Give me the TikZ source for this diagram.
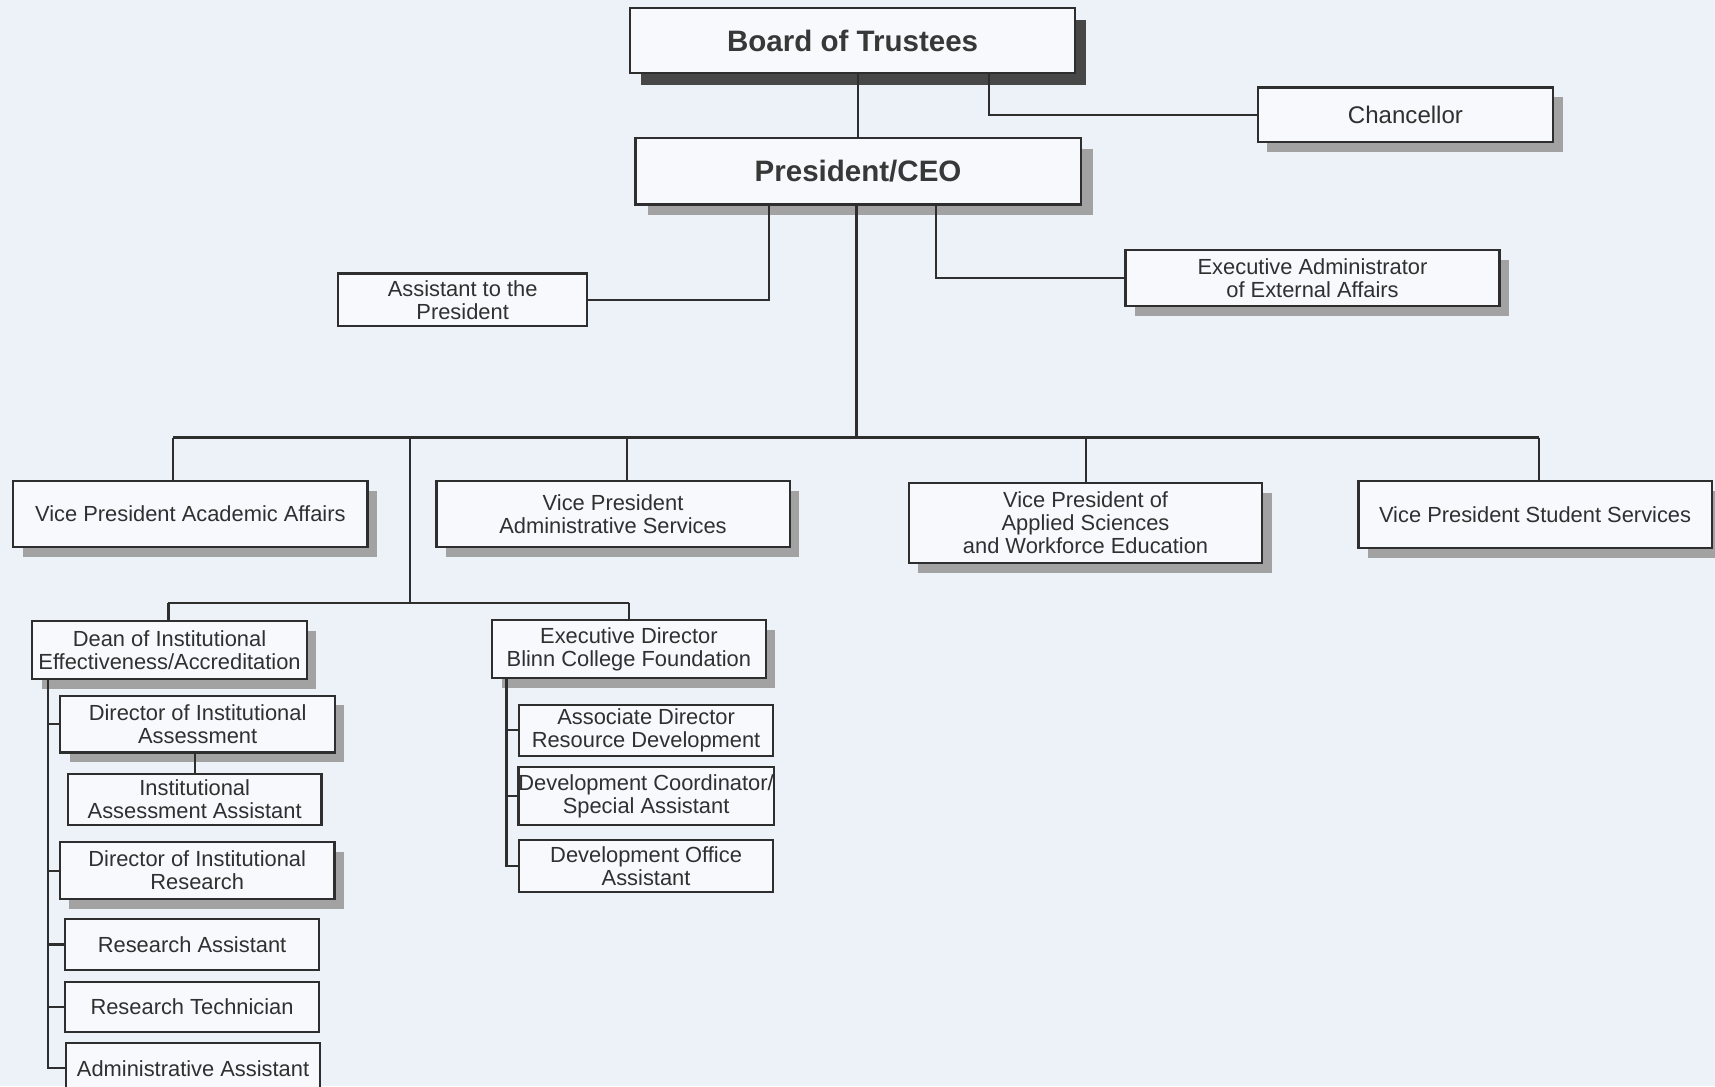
\documentclass[tikz,border=0pt]{standalone}
\usepackage{fontspec}
\setmainfont{Liberation Sans}
\usetikzlibrary{shadows}
\definecolor{bg}{HTML}{EDF1F8}
\definecolor{boxfill}{HTML}{F8F9FC}
\definecolor{ink}{HTML}{2E2E2E}
\definecolor{txt}{HTML}{303030}
\definecolor{shgray}{HTML}{A2A2A2}
\definecolor{shdark}{HTML}{474747}
\tikzset{
  orgbox/.style={draw=ink, fill=boxfill, line width=1pt, inner sep=0pt, align=center,
    text=txt, font=\fontsize{10}{10.5}\selectfont},
  sz/.style 2 args={minimum width=#1*0.5pt, minimum height=#2*0.5pt},
  shd/.style={drop shadow={shadow xshift=4.3pt, shadow yshift=-4.5pt, fill=shgray, opacity=1}},
  shdbig/.style={drop shadow={shadow xshift=5.5pt, shadow yshift=-5pt, fill=shgray, opacity=1}},
  shddark/.style={drop shadow={shadow xshift=5pt, shadow yshift=-5.5pt, fill=shdark, opacity=1}},
  headtext/.style={font=\fontsize{13.5}{15}\selectfont\bfseries, text=ink!95},
  link/.style={draw=ink, line width=1pt},
}
\begin{document}
\begin{tikzpicture}[x=0.5pt,y=-0.5pt]
\fill[bg] (0,0) rectangle (1568,993);
\useasboundingbox (0,0) rectangle (1568,993);

% top level
\node[orgbox, shddark, sz={407}{60}, headtext] (board) at (779.5,37) {Board of Trustees};
\node[orgbox, shd, sz={270}{50}, font=\fontsize{11}{12}\selectfont] (chan) at (1285,105) {Chancellor};
\node[orgbox, shdbig, sz={407}{61}, headtext] (pres) at (784.5,156.5) {President/CEO};
\node[orgbox, sz={228}{48}] (asst) at (423,274) {Assistant to the\\President};
\node[orgbox, shd, sz={342}{51}] (exad) at (1200,254) {Executive Administrator\\of External Affairs};

% vice presidents
\node[orgbox, shd, sz={324}{60}] (vpaa) at (174,470) {Vice President Academic Affairs};
\node[orgbox, shd, sz={323}{60}] (vpas) at (560.5,470) {Vice President\\Administrative Services};
\node[orgbox, shd, sz={323}{73}] (vpasw) at (992.5,478) {Vice President of\\Applied Sciences\\and Workforce Education};
\node[orgbox, shd, sz={323}{61}] (vpss) at (1403.5,470.5) {Vice President Student Services};

% second level
\node[orgbox, shd, sz={251}{53}] (dean) at (155,594) {Dean of Institutional\\Effectiveness/Accreditation};
\node[orgbox, shd, sz={250}{53}] (exdir) at (575,593.5) {Executive Director\\Blinn College Foundation};

% dean's staff
\node[orgbox, shd, sz={251}{52}] (dia) at (180.7,662) {Director of Institutional\\Assessment};
\node[orgbox, sz={232}{47}] (iaa) at (178,731) {Institutional\\Assessment Assistant};
\node[orgbox, shd, sz={251}{52}] (dir) at (180.3,796) {Director of Institutional\\Research};
\node[orgbox, sz={232}{46}] (ra) at (175.6,863.5) {Research Assistant};
\node[orgbox, sz={232}{46}] (rt) at (175.6,920.8) {Research Technician};
\node[orgbox, sz={232}{46}] (adm) at (176.5,976.7) {Administrative Assistant};

% foundation staff
\node[orgbox, sz={232}{47}] (ard) at (590.7,667.7) {Associate Director\\Resource Development};
\node[orgbox, sz={232}{53}] (dcsa) at (590.7,728) {Development Coordinator/\\Special Assistant};
\node[orgbox, sz={232}{47}] (doa) at (590.7,791.8) {Development Office\\Assistant};

% bend coordinates
\coordinate (xc) at (904,0);
\coordinate (xa) at (703,0);
\coordinate (xe) at (856,0);
\coordinate (xm) at (783,400);
\coordinate (laa) at (158,400);
\coordinate (las) at (573,400);
\coordinate (lasw) at (993,400);
\coordinate (lss) at (1407,400);
\coordinate (ls) at (375,400);
\coordinate (ls2) at (375,551);
\coordinate (ld) at (154,551);
\coordinate (le) at (575,551);
\coordinate (ds) at (44,0);
\coordinate (es) at (463,0);

% connectors
\draw[link] (pres.north) -- (pres.north |- board.south);
\draw[link] (board.south -| xc) |- (chan.west);
\draw[link] (pres.south -| xa) |- (asst.east);
\draw[link] (pres.south -| xe) |- (exad.west);
\draw[link] (pres.south -| xm) -- (xm);
\draw[link] (laa) -- (lss);
\draw[link] (laa) -- (laa |- vpaa.north);
\draw[link] (las) -- (las |- vpas.north);
\draw[link] (lasw) -- (lasw |- vpasw.north);
\draw[link] (lss) -- (lss |- vpss.north);
\draw[link] (ls) -- (ls2);
\draw[link] (ld) -- (le);
\draw[link] (ld) -- (ld |- dean.north);
\draw[link] (le) -- (exdir.north);

\draw[link] (dean.south -| ds) |- (adm.west);
\draw[link] (dia.west -| ds) -- (dia.west);
\draw[link] (dir.west -| ds) -- (dir.west);
\draw[link] (ra.west -| ds) -- (ra.west);
\draw[link] (rt.west -| ds) -- (rt.west);
\draw[link] (iaa.north) -- (iaa.north |- dia.south);

\draw[link] (exdir.south -| es) |- (doa.west);
\draw[link] (ard.west -| es) -- (ard.west);
\draw[link] (dcsa.west -| es) -- (dcsa.west);
\end{tikzpicture}
\end{document}
